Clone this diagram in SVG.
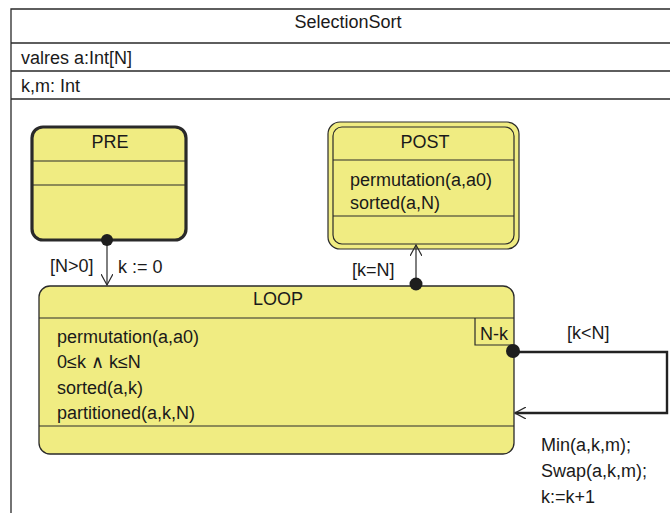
<svg xmlns="http://www.w3.org/2000/svg" width="670" height="513" viewBox="0 0 670 513">
<defs>
<style>
text{font-family:"Liberation Sans",Arial,sans-serif;font-size:18px;fill:#1a1a1a}
.st{fill:#f0ec82;stroke:#2a2a2a}
.ln{stroke:#2a2a2a;stroke-width:1.2;fill:none}
.fr{stroke:#2a2a2a;stroke-width:1.3;fill:none}
.dot{fill:#1e1e1e}
</style>
<marker id="open" viewBox="0 0 12 12" refX="11" refY="6" markerWidth="12" markerHeight="12" markerUnits="userSpaceOnUse" orient="auto">
<path d="M0,0 L11,6 L0,12" fill="none" stroke="#2a2a2a" stroke-width="1.2"/>
</marker>
</defs>
<rect width="670" height="513" fill="#fff"/>
<g id="frame">
<path class="fr" d="M11,513 L11,9 L672,9 M11,43 L672,43 M11,71 L672,71 M11,99 L672,99"/>
<text x="348" y="28" text-anchor="middle">SelectionSort</text>
<text x="21" y="64">valres a:Int[N]</text>
<text x="21" y="92">k,m: Int</text>
</g>
<g id="PRE">
<rect class="st" x="32" y="127" width="154" height="113" rx="11" stroke-width="3.2"/>
<path class="ln" d="M33,161 L185,161 M33,185 L185,185"/>
<text x="110" y="148" text-anchor="middle">PRE</text>
</g>
<g id="POST">
<rect class="st" x="328" y="122" width="191" height="127" rx="12" stroke-width="1.2"/>
<rect class="st" x="333" y="127" width="181" height="117" rx="9" stroke-width="1.2"/>
<path class="ln" d="M333,160 L514,160 M333,216 L514,216"/>
<text x="425" y="148" text-anchor="middle">POST</text>
<text x="350" y="186">permutation(a,a0)</text>
<text x="350" y="209">sorted(a,N)</text>
</g>
<g id="LOOP">
<rect class="st" x="39" y="286" width="475" height="168" rx="11" stroke-width="1.3"/>
<path class="ln" d="M39,318 L514,318 M39,426 L514,426 M475,318 L475,345 L512,345"/>
<text x="278" y="305" text-anchor="middle">LOOP</text>
<text x="57" y="343">permutation(a,a0)</text>
<text x="57" y="368">0≤k ∧ k≤N</text>
<text x="57" y="394">sorted(a,k)</text>
<text x="57" y="419">partitioned(a,k,N)</text>
<text x="494" y="340" text-anchor="middle">N-k</text>
</g>
<g id="connectors">
<path class="ln" d="M107,240 L107,285" marker-end="url(#open)"/>
<circle class="dot" cx="107" cy="240" r="6"/>
<text x="50" y="272">[N&gt;0]</text>
<text x="118" y="273">k := 0</text>
<path class="ln" d="M416,284 L416,245" marker-end="url(#open)"/>
<circle class="dot" cx="416" cy="284" r="6.5"/>
<text x="352" y="276">[k=N]</text>
<path d="M513,352 L667,352 L667,413 L515,413" fill="none" stroke="#222" stroke-width="2.4" marker-end="url(#open)"/>
<circle class="dot" cx="513" cy="351" r="7"/>
<text x="567" y="339">[k&lt;N]</text>
<text x="541" y="451">Min(a,k,m);</text>
<text x="541" y="477">Swap(a,k,m);</text>
<text x="541" y="503">k:=k+1</text>
</g>
</svg>
